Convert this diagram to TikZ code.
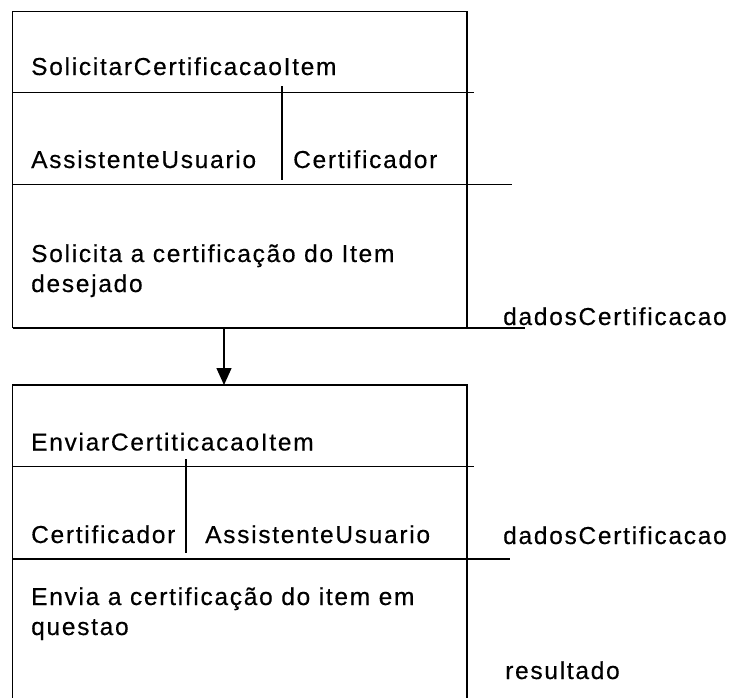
\documentclass[tikz,border=0pt]{standalone}
\usepackage{fontspec}
\setmainfont{Liberation Sans}[LetterSpace=7,FakeBold=0.4]
\usetikzlibrary{arrows.meta}
\begin{document}
\begin{tikzpicture}[x=1pt,y=-1pt,
  lbl/.style={anchor=base west, inner sep=0pt, font=\fontsize{24.5}{30}\selectfont},
  frame/.style={line width=1.4pt, draw=black},
  flow/.style={line width=1.4pt, draw=black, -{Triangle[length=17pt,width=15pt]}}]
\useasboundingbox (0,0) rectangle (731,697);
\clip (0,0) rectangle (731,697);

% ---- activity 1: SolicitarCertificacaoItem ----
\draw[frame] (12.7,328) -- (12.7,11.7) -- (467,11.7) -- (467,328);
\draw[frame] (12.7,328) -- (525,328);
\draw[frame] (12.7,92.3) -- (474,92.3);
\draw[frame] (12.7,184.5) -- (512,184.5);
\draw[frame] (282,86) -- (282,180);

\node[lbl] (t1)  at (31,75)   {SolicitarCertificacaoItem};
\node[lbl] (r1a) at (31,168)  {AssistenteUsuario};
\node[lbl] (r1b) at (293,168) {Certificador};
\node[lbl] (d1a) at (31,262)  {Solicita a certificação do Item};
\node[lbl] (d1b) at (31,292)  {desejado};
\node[lbl] (o1)  at (503,325) {dadosCertificacao};

% ---- transition ----
\coordinate (src) at (224,328);
\coordinate (dst) at (224,385);
\draw[flow] (src) -- (dst);

% ---- activity 2: EnviarCertiticacaoItem ----
\draw[frame] (12.7,700) -- (12.7,385) -- (467,385) -- (467,700);
\draw[frame] (12.7,466.5) -- (474,466.5);
\draw[frame] (12.7,559) -- (510,559);
\draw[frame] (186,459) -- (186,553);

\node[lbl] (t2)  at (31,450.5) {EnviarCertiticacaoItem};
\node[lbl] (r2a) at (31,543)   {Certificador};
\node[lbl] (r2b) at (205,543)  {AssistenteUsuario};
\node[lbl] (i2)  at (503,544)  {dadosCertificacao};
\node[lbl] (d2a) at (31,605)   {Envia a certificação do item em};
\node[lbl] (d2b) at (31,635)   {questao};
\node[lbl] (o2)  at (505,679)  {resultado};
\end{tikzpicture}
\end{document}
